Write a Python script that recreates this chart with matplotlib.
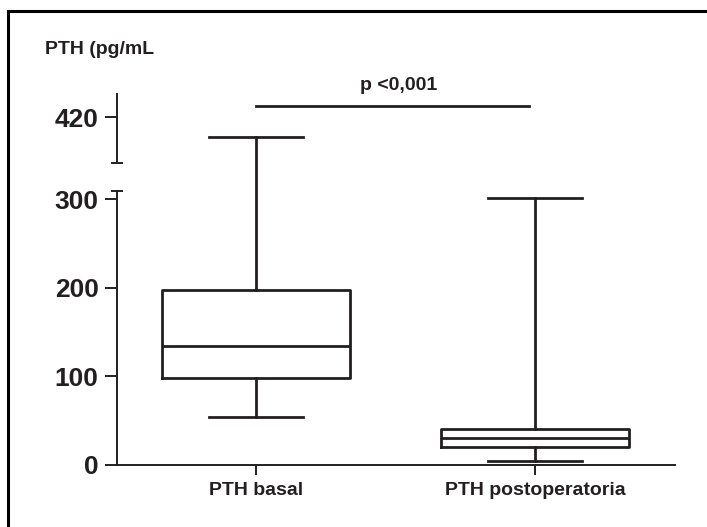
import numpy as np
import matplotlib
matplotlib.use("Agg")
import matplotlib.pyplot as plt
from matplotlib import transforms
from matplotlib.patches import Rectangle

plt.rcParams['font.family'] = ['Liberation Sans', 'DejaVu Sans']
plt.rcParams['font.weight'] = 'bold'

INK = '#231f20'

# box statistics (pg/mL)
groups = ['PTH basal', 'PTH postoperatoria']
whis_lo = [54, 5]
q1 = [98, 20]
medians = [134, 30]
q3 = [198, 41]
whis_hi = [397, 301]

y_ticks = [0, 100, 200, 300, 420]
p_text = 'p <0,001'

# broken y axis: 309..368 squeezed into a small gap
LOW_TOP = 309.0
HIGH_BOT = 368.0
GAP = 31.7
SHIFT = HIGH_BOT - LOW_TOP - GAP


def fwd(v):
  v = np.asarray(v, dtype=float)
  mid = LOW_TOP + (v - LOW_TOP) * GAP / (HIGH_BOT - LOW_TOP)
  return np.where(v <= LOW_TOP, v, np.where(v >= HIGH_BOT, v - SHIFT, mid))


def inv(p):
  p = np.asarray(p, dtype=float)
  mid = LOW_TOP + (p - LOW_TOP) * (HIGH_BOT - LOW_TOP) / GAP
  return np.where(p <= LOW_TOP, p, np.where(p >= LOW_TOP + GAP, p + SHIFT, mid))


fig = plt.figure(figsize=(7.07, 5.27), dpi=100)
ax = fig.add_axes([116.5/707, 1-465/527, 558/707, 371/527])
ax.set_yscale('function', functions=(fwd, inv))

stats = []
for i in range(len(groups)):
  stats.append({'label': groups[i], 'whislo': whis_lo[i], 'q1': q1[i], 'med': medians[i],
                'q3': q3[i], 'whishi': whis_hi[i], 'fliers': []})

lw = 2.0
ax.bxp(stats, positions=[1, 2], widths=0.674, showfliers=False,
       boxprops=dict(color=INK, linewidth=lw),
       medianprops=dict(color=INK, linewidth=lw),
       whiskerprops=dict(color=INK, linewidth=lw),
       capprops=dict(color=INK, linewidth=lw))

ax.set_xlim(0.5, 2.5)
ax.set_ylim(0, 446)
ax.set_yticks(y_ticks)
ax.set_yticklabels([str(t) for t in y_ticks])
ax.minorticks_off()
ax.yaxis.set_minor_locator(matplotlib.ticker.NullLocator())

for s in ['top', 'right', 'left']:
  ax.spines[s].set_visible(False)
ax.spines['bottom'].set_linewidth(1.4)
ax.spines['bottom'].set_color(INK)

ax.tick_params(axis='y', length=8.6, width=1.4, color=INK, pad=4.3, labelsize=19, labelcolor=INK)
ax.tick_params(axis='x', length=7, width=1.4, color=INK, pad=5, labelsize=14, labelcolor=INK)

# the two pieces of the left axis with end caps
trans = transforms.blended_transform_factory(ax.transAxes, ax.transData)
ax.plot([0, 0], [0, LOW_TOP], color=INK, lw=1.4, transform=trans, clip_on=False)
ax.plot([0, 0], [HIGH_BOT, 446], color=INK, lw=1.4, transform=trans, clip_on=False)
ax.plot([0, 0], [LOW_TOP, HIGH_BOT], ls='none', marker='_', ms=8.6, mew=1.4,
        color=INK, transform=trans, clip_on=False)

# significance bar
ax.plot([1, 1.98], [433, 433], color=INK, lw=2.0, clip_on=False)
ax.text(1.51, 451, p_text, ha='center', va='baseline', fontsize=14, color=INK)

fig.text(45/707, 1-54/527, 'PTH (pg/mL', ha='left', va='baseline', fontsize=14, color=INK)

# outer frame (runs off the right and bottom edges)
fig.patches.append(Rectangle((8/707, -0.2), 1.5, 1.2 - 11/527 + 0.0, transform=fig.transFigure,
                             fill=False, edgecolor='black', linewidth=2.2))

fig.savefig('out.png', dpi=100)
